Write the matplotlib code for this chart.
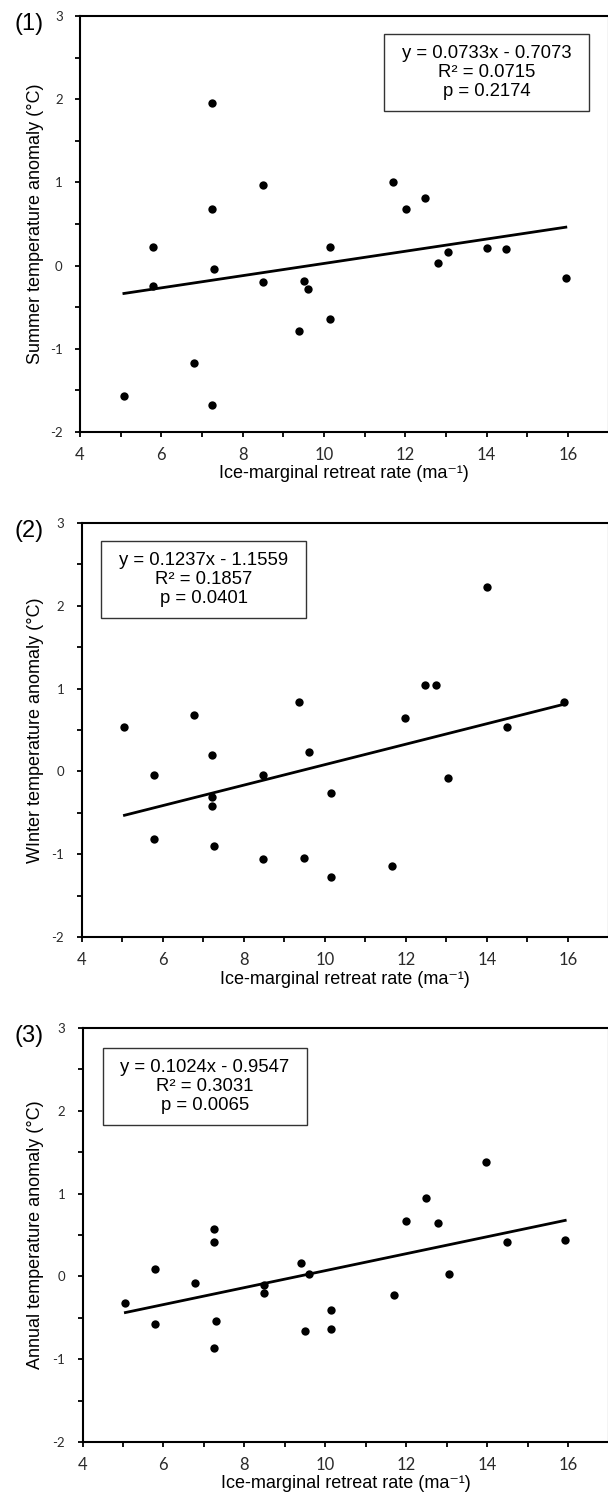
import numpy as np
import matplotlib
matplotlib.use('Agg')
import matplotlib.pyplot as plt
from matplotlib.patches import Rectangle

plt.rcParams['font.family'] = ['Liberation Sans', 'DejaVu Sans']
plt.rcParams['axes.unicode_minus'] = False

# ==================== data ====================
summer_x = [5.08, 5.80, 5.80, 6.81, 7.25, 7.25, 7.29, 7.25, 8.51, 8.51, 9.39, 9.51,
            9.61, 10.14, 10.14, 11.70, 12.02, 12.49, 12.80, 13.06, 14.01, 14.49, 15.95]
summer_y = [-1.565, 0.228, -0.24, -1.165, 1.95, 0.677, -0.04, -1.67, 0.97, -0.20, -0.79, -0.18,
            -0.28, 0.22, -0.645, 1.005, 0.685, 0.81, 0.036, 0.164, 0.208, 0.196, -0.144]

winter_x = [5.06, 5.80, 5.80, 6.78, 7.22, 7.22, 7.22, 7.26, 8.47, 8.47, 9.37, 9.50,
            9.61, 10.15, 10.15, 11.66, 11.99, 12.47, 12.75, 13.04, 14.01, 14.49, 15.90]
winter_y = [0.54, -0.04, -0.82, 0.676, 0.197, -0.314, -0.42, -0.90, -0.04, -1.06, 0.837, -1.04,
            0.24, -0.258, -1.28, -1.14, 0.64, 1.043, 1.043, -0.077, 2.222, 0.54, 0.837]

annual_x = [5.06, 5.78, 5.78, 6.79, 7.25, 7.25, 7.30, 7.25, 8.49, 8.49, 9.39, 9.49,
            9.60, 10.13, 10.13, 11.70, 11.99, 12.48, 12.79, 13.05, 13.98, 14.48, 15.93]
annual_y = [-0.322, 0.085, -0.576, -0.085, 0.576, 0.415, -0.54, -0.87, -0.10, -0.20, 0.165, -0.664,
            0.028, -0.403, -0.632, -0.22, 0.664, 0.95, 0.644, 0.028, 1.38, 0.415, 0.44]

slopes = [0.0733, 0.1237, 0.1024]
intercepts = [-0.7073, -1.1559, -0.9547]
r2_values = [0.0715, 0.1857, 0.3031]
p_values = [0.2174, 0.0401, 0.0065]

panel_tags = ['(1)', '(2)', '(3)']
y_labels = ['Summer temperature anomaly (°C)',
            'WInter temperature anomaly (°C)',
            'Annual temperature anomaly (°C)']
x_label = 'Ice-marginal retreat rate (ma⁻¹)'
x_ticks = [4, 6, 8, 10, 12, 14, 16]
y_ticks = [-2, -1, 0, 1, 2, 3]

xs = [summer_x, winter_x, annual_x]
ys = [summer_y, winter_y, annual_y]

# ==================== layout (pixels of a 608x1502 image) ====================
W, H = 608, 1502
fig = plt.figure(figsize=(W / 100, H / 100), dpi=100)

# (left, top, bottom) of each axes box, in pixels
ax_px = [(80, 16, 432), (81.5, 523, 937), (82.5, 1028, 1442)]
right_px = 608.5
# stats box (x0, x1, y_bottom, y_top) in axes fraction
box_pos = [(0.576, 0.964, 0.772, 0.957),
           (0.037, 0.426, 0.771, 0.957),
           (0.039, 0.427, 0.766, 0.952)]

for i in range(3):
    l, t, b = ax_px[i]
    aw, ah = right_px - l, b - t
    ax = fig.add_axes([l / W, (H - b) / H, aw / W, ah / H])

    ax.scatter(xs[i], ys[i], s=36, color='black', zorder=3, linewidths=0)

    # trend line from the fitted equation
    xl = np.array([min(xs[i]), max(xs[i])])
    ax.plot(xl, slopes[i] * xl + intercepts[i], color='black', lw=2.0, zorder=2)

    ax.set_xlim(4, 17)
    ax.set_ylim(-2, 3)
    ax.set_xticks(x_ticks)
    ax.set_yticks(y_ticks)
    ax.set_xticks(np.arange(5, 17, 2), minor=True)
    ax.set_yticks(np.arange(-1.5, 3, 1), minor=True)
    ax.tick_params(which='both', direction='out', length=3.5, width=1.3, color='black')
    ax.tick_params(axis='x', labelsize=12, pad=7)
    ax.tick_params(axis='y', labelsize=9.5, pad=9)
    for lab in ax.get_xticklabels() + ax.get_yticklabels():
        lab.set_fontfamily(['Lato', 'DejaVu Sans'])
        lab.set_color('#2a2a2a')
    for sp in ax.spines.values():
        sp.set_linewidth(1.5)

    ax.set_xlabel(x_label, fontsize=13, va='center')
    ax.set_ylabel(y_labels[i], fontsize=13, va='center')
    ax.xaxis.set_label_coords(0.5, -42 / ah)
    ax.yaxis.set_label_coords((36 - l) / aw, 0.5)

    x0, x1, y0, y1 = box_pos[i]
    ax.add_patch(Rectangle((x0, y0), x1 - x0, y1 - y0, transform=ax.transAxes,
                           fill=False, edgecolor='#333333', lw=1.0, zorder=4))
    txt = (f'y = {slopes[i]:.4f}x - {abs(intercepts[i]):.4f}\n'
           f'R² = {r2_values[i]:.4f}\n'
           f'p = {p_values[i]:.4f}')
    ax.text((x0 + x1) / 2, (y0 + y1) / 2, txt, transform=ax.transAxes,
            ha='center', va='center', fontsize=13.3, linespacing=1.15, zorder=5)

    fig.text(14 / W, 1 - (t + 8) / H, panel_tags[i], fontsize=17,
             ha='left', va='center')

fig.savefig('out.png', dpi=100)
